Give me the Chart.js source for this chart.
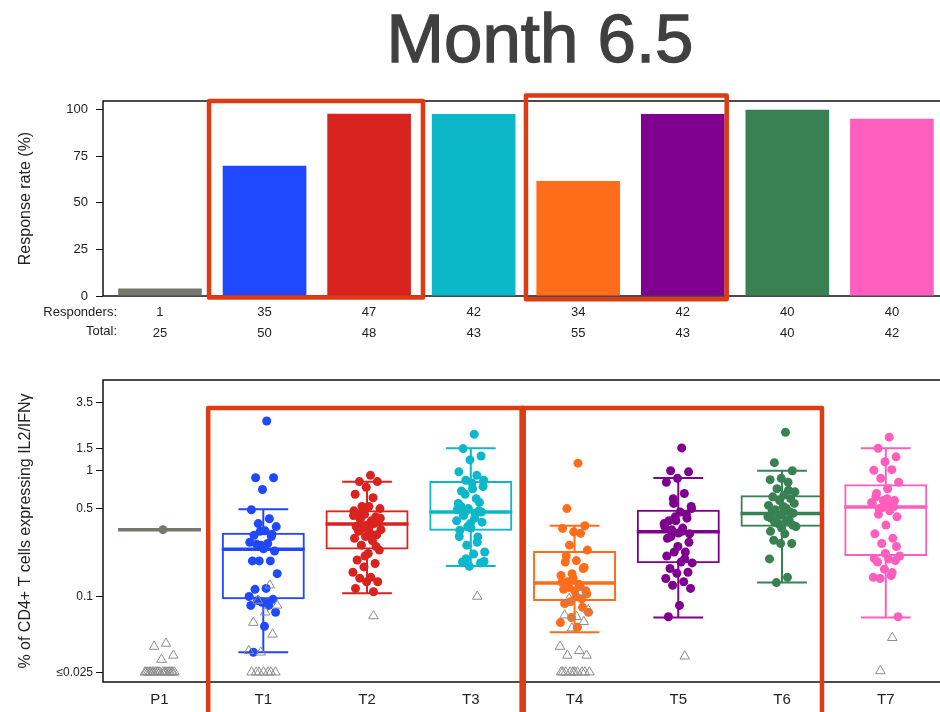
<!DOCTYPE html>
<html>
<head>
<meta charset="utf-8">
<script src="https://cdn.jsdelivr.net/npm/chart.js@4.4.1/dist/chart.umd.min.js"></script>
<style>
  html, body { margin: 0; padding: 0; background: #fff; overflow: hidden; }
  #wrap { position: relative; width: 940px; height: 712px; }
  #topChart { position: absolute; left: 0; top: 0; }
  #bottomChart { position: absolute; left: 0; top: 360px; }
  #title { position: absolute; left: 140px; top: 4px; width: 800px; text-align: center;
           font-family: 'Liberation Sans', Arial, sans-serif; font-size: 69px; line-height: 69px; color: #404040;
           -webkit-text-stroke: 1.3px #404040; }
</style>
</head>
<body>
<div id="wrap">
  <canvas id="topChart" width="940" height="360"></canvas>
  <canvas id="bottomChart" width="940" height="352"></canvas>
  <div id="title">Month 6.5</div>
</div>
<script>
// groups and counts
const groups = ['P1', 'T1', 'T2', 'T3', 'T4', 'T5', 'T6', 'T7'];
const responders = [1, 35, 47, 42, 34, 42, 40, 40];
const totals = [25, 50, 48, 43, 55, 43, 40, 42];
const responseRate = [4, 70, 97.9, 97.7, 61.8, 97.7, 100, 95.2];
const rateTicks = [0, 25, 50, 75, 100];
const levelTicks = [0.025, 0.1, 0.5, 1, 1.5, 3.5];

// box statistics (% CD4+ IL2/IFNg)
const whiskerLow  = [0.34, 0.036, 0.106, 0.175, 0.052, 0.068, 0.129, 0.068];
const q1          = [0.34, 0.095, 0.237, 0.333, 0.092, 0.184, 0.358, 0.21];
const median      = [0.34, 0.238, 0.377, 0.469, 0.128, 0.327, 0.458, 0.516];
const q3          = [0.34, 0.321, 0.486, 0.83, 0.23, 0.49, 0.64, 0.78];
const whiskerHigh = [0.34, 0.495, 0.816, 1.51, 0.365, 0.875, 1.0, 1.51];

// responders (dots)
const respP1 = [0.34];
const respT1 = [2.49, 0.88, 0.88, 0.71, 0.49, 0.415, 0.38, 0.36, 0.333, 0.307, 0.313, 0.256, 0.27, 0.264, 0.26, 0.23, 0.24,
  0.192, 0.192, 0.192, 0.152, 0.116, 0.114, 0.095, 0.09, 0.085, 0.085, 0.093, 0.075, 0.058, 0.036, 0.30, 0.33, 0.10, 0.088];
const respT2 = [0.92, 0.82, 0.82, 0.74, 0.65, 0.61, 0.52, 0.50, 0.52, 0.44, 0.43, 0.45, 0.44, 0.40, 0.41, 0.39, 0.37, 0.36,
  0.38, 0.35, 0.34, 0.32, 0.33, 0.31, 0.30, 0.29, 0.277, 0.256, 0.234, 0.22, 0.195, 0.183, 0.172, 0.156, 0.142, 0.14, 0.131,
  0.131, 0.116, 0.109, 0.47, 0.42, 0.36, 0.34, 0.25, 0.21, 0.48];
const respT3 = [1.95, 1.5, 1.31, 1.22, 0.98, 0.92, 0.84, 0.84, 0.72, 0.69, 0.56, 0.50, 0.49, 0.46, 0.45, 0.39, 0.35, 0.337,
  0.298, 0.256, 0.226, 0.218, 0.188, 0.185, 0.174, 0.55, 0.60, 0.65, 0.75, 0.80, 0.52, 0.48, 0.36, 0.40, 0.42, 0.44, 0.47,
  0.38, 0.30, 0.27, 0.20, 0.19];
const respT4 = [1.15, 0.50, 0.365, 0.327, 0.348, 0.318, 0.256, 0.234, 0.193, 0.188, 0.167, 0.152, 0.147, 0.125, 0.131, 0.111,
  0.111, 0.114, 0.096, 0.091, 0.075, 0.057, 0.21, 0.17, 0.14, 0.13, 0.12, 0.118, 0.105, 0.10, 0.088, 0.082, 0.068, 0.062];
const respT5 = [1.52, 1.0, 0.98, 0.87, 0.81, 0.66, 0.60, 0.52, 0.47, 0.40, 0.42, 0.40, 0.36, 0.35, 0.34, 0.315, 0.32, 0.29,
  0.226, 0.226, 0.185, 0.188, 0.167, 0.156, 0.153, 0.139, 0.131, 0.123, 0.116, 0.085, 0.069, 0.45, 0.43, 0.38, 0.33, 0.30,
  0.27, 0.25, 0.21, 0.20, 0.55, 0.50];
const respT6 = [2.02, 1.16, 1.0, 0.87, 0.85, 0.81, 0.72, 0.68, 0.64, 0.62, 0.60, 0.58, 0.53, 0.50, 0.49, 0.46, 0.45, 0.42,
  0.41, 0.38, 0.36, 0.315, 0.28, 0.264, 0.264, 0.199, 0.142, 0.129, 0.55, 0.52, 0.48, 0.47, 0.44, 0.43, 0.40, 0.39, 0.37,
  0.35, 0.33, 0.70];
const respT7 = [1.85, 1.51, 1.29, 1.18, 1.01, 1.02, 0.87, 0.81, 0.72, 0.66, 0.58, 0.58, 0.55, 0.53, 0.50, 0.43, 0.37, 0.315,
  0.29, 0.264, 0.21, 0.199, 0.188, 0.193, 0.165, 0.142, 0.147, 0.139, 0.069, 0.60, 0.62, 0.52, 0.51, 0.56, 0.48, 0.45, 0.25,
  0.22, 0.20, 0.155];

// non-responders (open triangles), 0.025 = at/below detection limit
const nonP1 = [0.0423, 0.040, 0.034, 0.0315, 0.025, 0.025, 0.025, 0.025, 0.025, 0.025, 0.025, 0.025, 0.025, 0.025,
  0.025, 0.025, 0.025, 0.025, 0.025, 0.025, 0.025, 0.025, 0.025, 0.025];
const nonT1 = [0.123, 0.093, 0.085, 0.075, 0.062, 0.050, 0.036, 0.037, 0.025, 0.025, 0.025, 0.025, 0.025, 0.025, 0.025];
const nonT2 = [0.070];
const nonT3 = [0.10];
const nonT4 = [0.107, 0.096, 0.078, 0.069, 0.071, 0.063, 0.056, 0.040, 0.037, 0.034, 0.034, 0.025, 0.025, 0.025, 0.025,
  0.025, 0.025, 0.025, 0.025, 0.025, 0.025];
const nonT5 = [0.0335];
const nonT6 = [];
const nonT7 = [0.047, 0.0256];

const respAll = [respP1, respT1, respT2, respT3, respT4, respT5, respT6, respT7];
const nonAll = [nonP1, nonT1, nonT2, nonT3, nonT4, nonT5, nonT6, nonT7];

const colors = ['#76776f', '#1f48ff', '#d8231f', '#0cb7c9', '#ff6d1b', '#7f008f', '#378153', '#ff5ebe'];
const highlightRed = '#df3b12';

Chart.defaults.font.family = "'Liberation Sans', Arial, sans-serif";
Chart.defaults.color = '#222';

function jitter(k, spread) {
  return (((k + 1) * 0.6180339887) % 1 - 0.5) * spread;
}

const xRange = { min: -0.545, max: 7.46 };

const framePlugin = {
  id: 'frame',
  beforeDatasetsDraw(chart) {
    const { ctx, chartArea: a } = chart;
    ctx.save();
    ctx.strokeStyle = '#111';
    ctx.lineWidth = 1.5;
    ctx.beginPath();
    ctx.moveTo(chart.width + 5, a.top);
    ctx.lineTo(a.left, a.top);
    ctx.lineTo(a.left, a.bottom);
    ctx.lineTo(chart.width + 5, a.bottom);
    ctx.stroke();
    ctx.restore();
  }
};

const highlightPlugin = {
  id: 'highlight',
  afterDraw(chart, args, opts) {
    const { ctx, scales: { x, y } } = chart;
    ctx.save();
    ctx.strokeStyle = opts.color;
    ctx.lineWidth = opts.width;
    ctx.lineJoin = 'round';
    opts.boxes.forEach(b => {
      const l = x.getPixelForValue(b.x0), r = x.getPixelForValue(b.x1);
      const t = y.getPixelForValue(b.yTop);
      const btm = b.yBottom == null ? chart.height + 10 : y.getPixelForValue(b.yBottom);
      ctx.strokeRect(l, t, r - l, btm - t);
    });
    ctx.restore();
  }
};

const rowLabelPlugin = {
  id: 'rowLabels',
  afterDraw(chart) {
    const { ctx, chartArea: a } = chart;
    ctx.save();
    ctx.font = "13px 'Liberation Sans', Arial, sans-serif";
    ctx.fillStyle = '#222';
    ctx.textAlign = 'right';
    ctx.textBaseline = 'middle';
    ctx.fillText('Responders:', a.left + 14, a.bottom + 16);
    ctx.fillText('Total:', a.left + 14, a.bottom + 35);
    ctx.restore();
  }
};

new Chart(document.getElementById('topChart'), {
  type: 'bar',
  data: {
    datasets: [{
      data: groups.map((g, i) => ({ x: i, y: responseRate[i] })),
      backgroundColor: colors,
      categoryPercentage: 0.8,
      barPercentage: 1
    }]
  },
  options: {
    responsive: false,
    animation: false,
    devicePixelRatio: 1,
    layout: { padding: { top: 101, right: 0, bottom: 0, left: 0 } },
    plugins: {
      legend: { display: false },
      tooltip: { enabled: false },
      highlight: {
        color: highlightRed, width: 4.5,
        boxes: [
          { x0: 0.469, x1: 2.515, yTop: 104.7, yBottom: -0.8 },
          { x0: 3.50, x1: 5.42, yTop: 107.6, yBottom: -1.8 }
        ]
      }
    },
    scales: {
      x: {
        type: 'linear', min: xRange.min, max: xRange.max, offset: false,
        afterBuildTicks: s => { s.ticks = groups.map((g, i) => ({ value: i })); },
        afterFit: s => { s.height = 64; },
        grid: { display: false, drawTicks: false },
        border: { display: false },
        ticks: {
          padding: 6,
          font: { size: 13, lineHeight: 1.6 },
          callback: (v) => [String(responders[v]), String(totals[v])]
        }
      },
      y: {
        min: 0, max: 104.7,
        afterBuildTicks: s => { s.ticks = rateTicks.map(v => ({ value: v })); },
        afterFit: s => { s.width = 103; },
        grid: { drawOnChartArea: false, drawTicks: true, tickLength: 7, color: '#111' },
        border: { display: false },
        ticks: { padding: 8, font: { size: 13 } },
        title: { display: true, text: 'Response rate (%)', font: { size: 16 }, padding: { top: 16, bottom: 0 } }
      }
    }
  },
  plugins: [framePlugin, rowLabelPlugin, highlightPlugin]
});

const boxPlugin = {
  id: 'boxStats',
  beforeDatasetsDraw(chart) {
    const { ctx, scales: { x, y } } = chart;
    ctx.save();
    groups.forEach((g, i) => {
      const cx = x.getPixelForValue(i);
      const halfBox = x.getPixelForValue(i + 0.4) - cx;
      const halfCap = x.getPixelForValue(i + 0.24) - cx;
      ctx.strokeStyle = colors[i];
      ctx.lineWidth = 2;
      ctx.beginPath();
      ctx.moveTo(cx, y.getPixelForValue(q3[i]));
      ctx.lineTo(cx, y.getPixelForValue(whiskerHigh[i]));
      ctx.moveTo(cx - halfCap, y.getPixelForValue(whiskerHigh[i]));
      ctx.lineTo(cx + halfCap, y.getPixelForValue(whiskerHigh[i]));
      ctx.moveTo(cx, y.getPixelForValue(q1[i]));
      ctx.lineTo(cx, y.getPixelForValue(whiskerLow[i]));
      ctx.moveTo(cx - halfCap, y.getPixelForValue(whiskerLow[i]));
      ctx.lineTo(cx + halfCap, y.getPixelForValue(whiskerLow[i]));
      ctx.stroke();
      ctx.lineWidth = 3.5;
      ctx.beginPath();
      ctx.moveTo(cx - halfBox, y.getPixelForValue(median[i]));
      ctx.lineTo(cx + halfBox, y.getPixelForValue(median[i]));
      ctx.stroke();
    });
    ctx.restore();
  }
};

const dotSets = respAll.map((vals, i) => ({
  type: 'scatter',
  order: 1,
  data: vals.map((v, k) => ({ x: i + jitter(k, 0.28), y: v })),
  backgroundColor: colors[i],
  borderWidth: 0,
  pointRadius: 4.5
}));

const triangleSets = nonAll.map((vals, i) => ({
  type: 'scatter',
  order: 0,
  data: vals.map((v, k) => ({ x: i + jitter(k + 5, 0.3), y: v })),
  pointStyle: 'triangle',
  backgroundColor: 'rgba(0,0,0,0)',
  borderColor: '#8e8e8e',
  borderWidth: 1,
  pointRadius: 5.5
}));

new Chart(document.getElementById('bottomChart'), {
  type: 'bar',
  data: {
    datasets: [{
      type: 'bar',
      order: 5,
      data: groups.map((g, i) => ({ x: i, y: [q1[i], q3[i]] })),
      backgroundColor: 'rgba(0,0,0,0)',
      borderColor: colors,
      borderWidth: 2,
      borderSkipped: false,
      categoryPercentage: 0.8,
      barPercentage: 1
    }, ...dotSets, ...triangleSets]
  },
  options: {
    responsive: false,
    animation: false,
    devicePixelRatio: 1,
    layout: { padding: { top: 20, right: 0, bottom: 0, left: 0 } },
    plugins: {
      legend: { display: false },
      tooltip: { enabled: false },
      highlight: {
        color: highlightRed, width: 4.5,
        boxes: [
          { x0: 0.469, x1: 3.51, yTop: 3.15, yBottom: null },
          { x0: 3.49, x1: 6.385, yTop: 3.15, yBottom: null }
        ]
      }
    },
    scales: {
      x: {
        type: 'linear', min: xRange.min, max: xRange.max, offset: false,
        afterBuildTicks: s => { s.ticks = groups.map((g, i) => ({ value: i })); },
        afterFit: s => { s.height = 30; },
        grid: { display: false, drawTicks: false },
        border: { display: false },
        ticks: { padding: 9, font: { size: 15 }, callback: v => groups[v] }
      },
      y: {
        type: 'logarithmic', min: 0.0209, max: 5.27,
        afterBuildTicks: s => { s.ticks = levelTicks.map(v => ({ value: v })); },
        afterFit: s => { s.width = 103; },
        grid: { drawOnChartArea: false, drawTicks: true, tickLength: 7, color: '#111' },
        border: { display: false },
        ticks: { padding: 3, font: { size: 12 }, callback: v => (v === 0.025 ? '\u22640.025' : String(v)) },
        title: { display: true, text: '% of CD4+ T cells expressing IL2/IFN\u03b3', font: { size: 16 }, padding: { top: 16, bottom: 0 } }
      }
    }
  },
  plugins: [framePlugin, boxPlugin, highlightPlugin]
});
</script>
</body>
</html>
